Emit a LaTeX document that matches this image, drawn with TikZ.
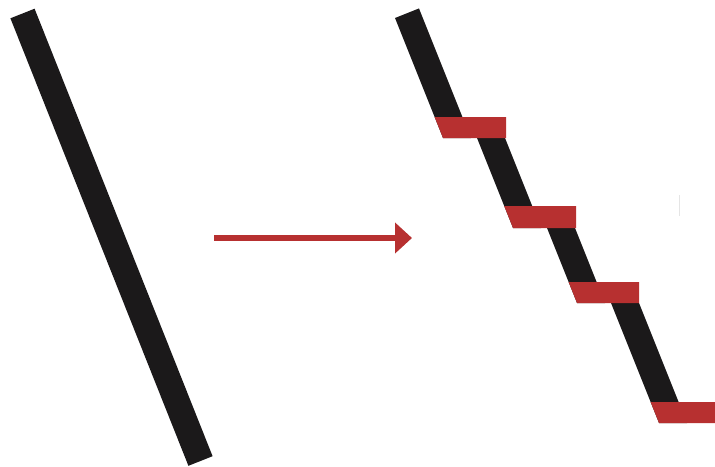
\documentclass[tikz,border=0pt]{standalone}
\usepackage{xcolor}
\usepackage{tikz}
\usetikzlibrary{arrows.meta}

\definecolor{barblack}{RGB}{27,25,26}
\definecolor{stepred}{RGB}{183,48,48}

\begin{document}
\begin{tikzpicture}[
  x=0.03cm, y=-0.03cm,
  bar/.style={fill=barblack, draw=none},
  slantbar/.style={draw=barblack, line width=22.2pt, line cap=butt},
  tread/.style={fill=stepred, draw=none},
  arrow/.style={-{Triangle[length=14.5pt, width=25.6pt]}, line width=4.3pt, stepred},
  speck/.style={draw=black!10, line width=0.6pt}
]
\useasboundingbox (0,0) rectangle (715,466);

% --- Left: one straight slanted bar ---
\draw[slantbar] (22.5,13.5) -- (200.5,461);

% --- Middle: arrow ---
\coordinate (from) at (214,238);
\coordinate (to) at (412,238);
\draw[arrow] (from) -- (to);

% --- Right: the bar cut into pieces, each shifted right ---
\fill[bar] (395,18) -- (419,8.4) -- (470.8,138) -- (443,138) -- cycle;
\fill[bar] (468.6,117) -- (496.6,117) -- (541,228) -- (513,228) -- cycle;
\fill[bar] (538.2,206) -- (566.2,206) -- (605,303) -- (577,303) -- cycle;
\fill[bar] (602.6,282) -- (630.6,282) -- (687,423) -- (659,423) -- cycle;

% --- Right: red treads filling the gaps ---
\fill[tread] (434.6,117) -- (506,117) -- (506,138) -- (443,138) -- cycle;
\fill[tread] (504.2,206) -- (576,206) -- (576,228) -- (513,228) -- cycle;
\fill[tread] (568.6,282) -- (639,282) -- (639,303) -- (577,303) -- cycle;
\fill[tread] (650.6,402) -- (715,402) -- (715,423) -- (659,423) -- cycle;

% faint mark
\draw[speck] (679,195) -- (679,216);

\end{tikzpicture}
\end{document}
